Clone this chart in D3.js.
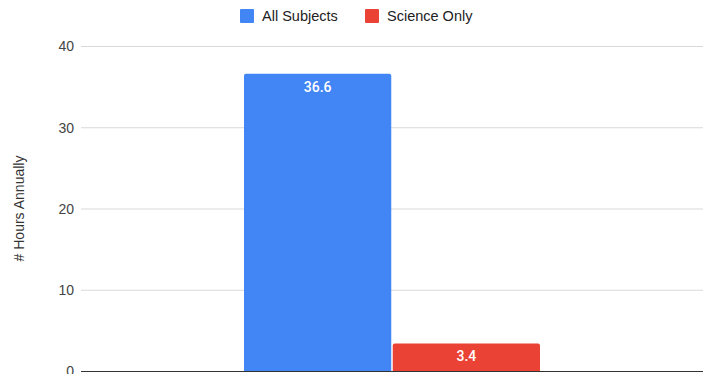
<!DOCTYPE html>
<html>
<head>
<meta charset="utf-8">
<script src="https://cdn.jsdelivr.net/npm/d3@7"></script>
<style>
  html, body { margin: 0; padding: 0; background: #fff; }
  svg { display: block; }
</style>
</head>
<body>
<svg id="chart" width="707" height="374"></svg>
<script>
// Hours spent annually, one group with two series
const categories = ["Hours"];
const seriesNames = ["All Subjects", "Science Only"];
const allSubjects = [36.6];
const scienceOnly = [3.4];
const yTicks = [0, 10, 20, 30, 40];
const colors = ["#4285f4", "#ea4335"];

const svg = d3.select("#chart");
const W = 707;
const margin = { left: 81, right: 4 };
const plotW = W - margin.left - margin.right;
const y0 = 371, yTop = 46;

const y = d3.scaleLinear().domain([0, 40]).range([y0, yTop]);

const groupWidth = 296;
const x = d3.scaleBand()
  .domain(categories)
  .range([margin.left, W - margin.right])
  .paddingInner(0)
  .paddingOuter((plotW / groupWidth - 1) / 2);

const xSub = d3.scaleBand()
  .domain(seriesNames)
  .range([0, x.bandwidth()])
  .paddingInner(0.01);

// gridlines and tick labels
const yAxis = d3.axisLeft(y).tickValues(yTicks).tickSize(0).tickPadding(0);
const gy = svg.append("g").attr("transform", `translate(${margin.left},0)`).call(yAxis);
gy.select(".domain").remove();
gy.selectAll(".tick text")
  .attr("x", -7)
  .attr("dy", "0.35em")
  .attr("fill", "#444")
  .style("font-family", "'Liberation Sans', Arial, sans-serif")
  .style("font-size", "14px");
gy.selectAll(".tick line")
  .attr("x2", plotW)
  .attr("stroke", "#d9d9d9")
  .attr("stroke-width", 1);

// y axis title
svg.append("text")
  .attr("transform", `translate(24,${(y0 + yTop) / 2}) rotate(-90)`)
  .attr("text-anchor", "middle")
  .attr("fill", "#333")
  .style("font-family", "'Liberation Sans', Arial, sans-serif")
  .style("font-size", "14px")
  .text("# Hours Annually");

// bars
const rows = categories.map((c, i) => ({
  cat: c,
  values: [
    { name: seriesNames[0], v: allSubjects[i], color: colors[0] },
    { name: seriesNames[1], v: scienceOnly[i], color: colors[1] }
  ]
}));

const groups = svg.selectAll("g.grp").data(rows).join("g")
  .attr("class", "grp")
  .attr("transform", d => `translate(${x(d.cat)},0)`);

groups.selectAll("path.bar").data(d => d.values).join("path")
  .attr("class", "bar")
  .attr("fill", d => d.color)
  .attr("d", d => {
    const bx = xSub(d.name), bw = xSub.bandwidth();
    const top = y(d.v), r = 2;
    return `M${bx},${y0}V${top + r}Q${bx},${top} ${bx + r},${top}H${bx + bw - r}Q${bx + bw},${top} ${bx + bw},${top + r}V${y0}Z`;
  });

groups.selectAll("text.val").data(d => d.values).join("text")
  .attr("class", "val")
  .attr("x", d => xSub(d.name) + xSub.bandwidth() / 2)
  .attr("y", d => y(d.v) + 13)
  .attr("dy", "0.35em")
  .attr("text-anchor", "middle")
  .attr("fill", "#fff")
  .style("font-family", "Roboto, sans-serif")
  .style("font-size", "14px")
  .style("font-weight", "500")
  .text(d => d.v.toFixed(1));

// baseline
svg.append("line")
  .attr("x1", margin.left).attr("x2", W - margin.right)
  .attr("y1", y(0) + 0.5).attr("y2", y(0) + 0.5)
  .attr("stroke", "#333").attr("stroke-width", 1);

// legend
const legendX = [240, 365];
const legend = svg.selectAll("g.leg").data(seriesNames).join("g")
  .attr("class", "leg")
  .attr("transform", (d, i) => `translate(${legendX[i]},9)`);
legend.append("rect")
  .attr("width", 14).attr("height", 14).attr("rx", 1)
  .attr("fill", (d, i) => colors[i]);
legend.append("text")
  .attr("x", 22).attr("y", 7).attr("dy", "0.35em")
  .attr("fill", "#222")
  .style("font-family", "'Liberation Sans', Arial, sans-serif")
  .style("font-size", "14.5px")
  .text(d => d);
</script>
</body>
</html>
